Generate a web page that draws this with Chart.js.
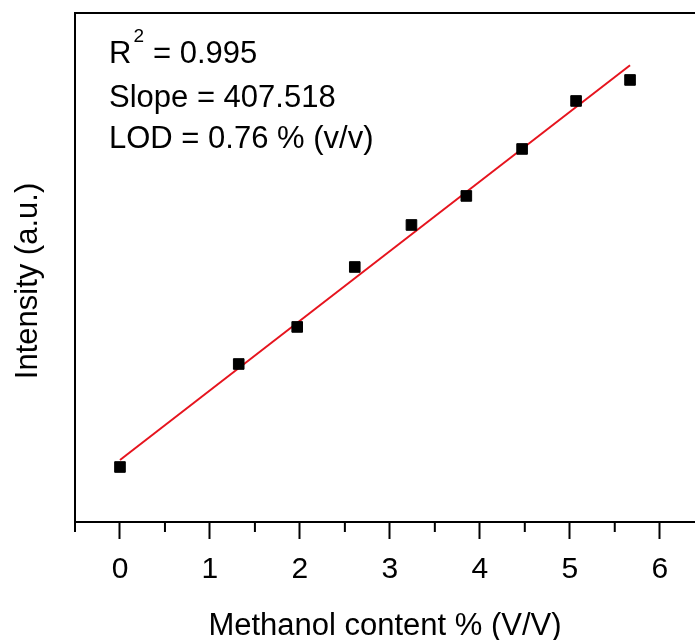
<!DOCTYPE html>
<html>
<head>
<meta charset="utf-8">
<script src="https://cdn.jsdelivr.net/npm/chart.js@4.4.1/dist/chart.umd.min.js"></script>
<style>
    html, body { margin: 0; padding: 0; background: #fff; overflow: hidden; }
    canvas { display: block; }
</style>
</head>
<body>
<canvas id="calibChart" width="695" height="640"></canvas>
<script>
// Calibration data
const methanolContent = [0, 1.32, 1.97, 2.61, 3.24, 3.85, 4.47, 5.07, 5.67];
const intensity = [1122, 1725, 1942, 2293, 2539, 2709, 2984, 3265, 3388];
// Linear fit end points
const fitX = [0, 5.67];
const fitY = [1163, 3474];
const xMajorTicks = [0, 1, 2, 3, 4, 5, 6];
const xMinorTicks = [-0.5, 0.5, 1.5, 2.5, 3.5, 4.5, 5.5, 6.5];
const fitLabels = ['0.995', '407.518', '0.76 % (v/v)'];

const FONT = '"Liberation Sans", Arial, sans-serif';

// Top frame line, minor ticks, y title and the fit statistics text
const framePlugin = {
    id: 'frameAndText',
    afterDraw(chart) {
        const ctx = chart.ctx;
        const area = chart.chartArea;
        const xScale = chart.scales.x;
        ctx.save();
        ctx.strokeStyle = '#000';
        ctx.lineWidth = 2;
        ctx.beginPath();
        ctx.moveTo(area.left - 1, area.top);
        ctx.lineTo(chart.width, area.top);
        ctx.stroke();

        // minor ticks
        xMinorTicks.forEach(v => {
            const px = xScale.getPixelForValue(v);
            if (px > chart.width) return;
            ctx.beginPath();
            ctx.moveTo(px, area.bottom);
            ctx.lineTo(px, area.bottom + 10);
            ctx.stroke();
        });

        ctx.fillStyle = '#000';

        // y axis title
        ctx.save();
        ctx.translate(28, 281);
        ctx.rotate(-Math.PI / 2);
        ctx.textAlign = 'center';
        ctx.textBaseline = 'middle';
        ctx.font = '31px ' + FONT;
        ctx.fillText('Intensity (a.u.)', 0, 0);
        ctx.restore();

        ctx.textBaseline = 'alphabetic';
        const x = area.left + 34;
        ctx.font = '31px ' + FONT;
        ctx.fillText('R', x, area.top + 50);
        const rw = ctx.measureText('R').width;
        ctx.font = '19px ' + FONT;
        ctx.fillText('2', x + rw + 2, area.top + 29);
        ctx.font = '31px ' + FONT;
        ctx.fillText('= ' + fitLabels[0], x + 44, area.top + 50);
        ctx.fillText('Slope = ' + fitLabels[1], x, area.top + 94);
        ctx.fillText('LOD = ' + fitLabels[2], x, area.top + 135);
        ctx.restore();
    }
};

const canvas = document.getElementById('calibChart');
new Chart(canvas.getContext('2d'), {
    type: 'scatter',
    data: {
        datasets: [
            {
                label: 'Data',
                data: methanolContent.map((v, i) => ({ x: v, y: intensity[i] })),
                pointStyle: 'rect',
                pointRadius: 7.5,
                backgroundColor: '#000',
                borderColor: '#000',
                borderWidth: 1,
                order: 0
            },
            {
                label: 'Fit',
                data: fitX.map((v, i) => ({ x: v, y: fitY[i] })),
                showLine: true,
                pointRadius: 0,
                borderColor: 'rgb(230, 20, 30)',
                borderWidth: 2,
                order: 1
            }
        ]
    },
    options: {
        responsive: false,
        animation: false,
        layout: { autoPadding: false, padding: { top: 13, right: 0, left: 0, bottom: 0 } },
        plugins: {
            legend: { display: false },
            tooltip: { enabled: false }
        },
        scales: {
            x: {
                type: 'linear',
                min: -0.5,
                max: 6.392,
                afterBuildTicks: (scale) => {
                    scale.ticks = xMajorTicks.map(v => ({ value: v }));
                },
                afterFit: (scale) => {
                    scale.height = 118;
                    scale.paddingLeft = 0;
                    scale.paddingRight = 0;
                },
                grid: {
                    drawOnChartArea: false,
                    drawTicks: true,
                    tickLength: 17,
                    tickWidth: 2,
                    tickColor: '#000'
                },
                border: { display: true, color: '#000', width: 2 },
                ticks: {
                    color: '#000',
                    padding: 13,
                    maxRotation: 0,
                    font: { family: FONT, size: 30 }
                },
                title: {
                    display: true,
                    text: 'Methanol content % (V/V)',
                    color: '#000',
                    font: { family: FONT, size: 31 },
                    padding: { top: 10, bottom: -5 }
                }
            },
            y: {
                min: 800,
                max: 3780,
                afterFit: (scale) => { scale.width = 75; },
                grid: { drawOnChartArea: false, drawTicks: false },
                border: { display: true, color: '#000', width: 2 },
                ticks: { display: false },
                title: { display: false }
            }
        }
    },
    plugins: [framePlugin]
});
</script>
</body>
</html>
